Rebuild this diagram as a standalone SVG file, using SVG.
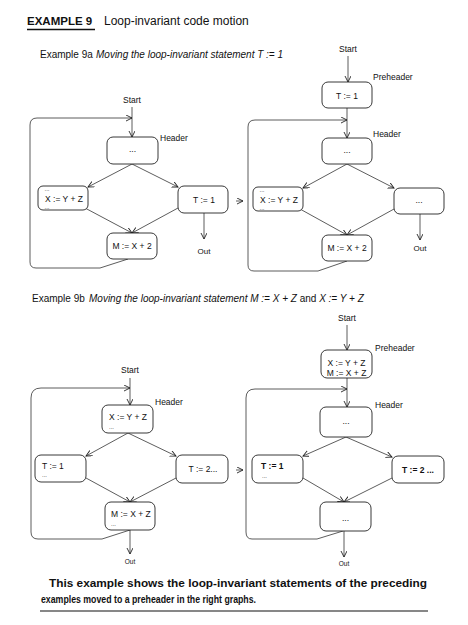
<svg xmlns="http://www.w3.org/2000/svg" width="468" height="625" viewBox="0 0 468 625">
<style>
text{font-family:"Liberation Sans",Arial,sans-serif;fill:#111}
.box{fill:#fff;stroke:#222;stroke-width:0.9}
.ln{fill:none;stroke:#333;stroke-width:0.8}
.lbl{font-size:8.5px}
.bt{font-size:8.5px;text-anchor:middle}
.dots{font-size:6px}
.out{font-size:8px;text-anchor:middle}
.outs{font-size:6.5px;text-anchor:middle}
.b{font-weight:bold}
</style>
<defs>
<marker id="ah" markerUnits="userSpaceOnUse" markerWidth="8" markerHeight="8" refX="6" refY="3" orient="auto">
<path d="M0,0 L6,3 L0,6" fill="none" stroke="#222" stroke-width="0.9"/>
</marker>
</defs>
<rect width="468" height="625" fill="#fff"/>

<g id="title">
<text x="27" y="25" font-size="11.5" font-weight="bold">EXAMPLE 9</text>
<line x1="27" y1="29.5" x2="95" y2="29.5" stroke="#111" stroke-width="1.6"/>
<text x="104" y="25" font-size="12">Loop-invariant code motion</text>
<text x="40" y="58" font-size="10">Example 9a<tspan x="96" font-style="italic">Moving the loop-invariant statement T := 1</tspan></text>
<text x="32" y="302" font-size="10">Example 9b<tspan x="89" font-style="italic">Moving the loop-invariant statement M := X + Z</tspan> and <tspan font-style="italic">X := Y + Z</tspan></text>
<text x="49" y="587" font-size="10.5" font-weight="bold" textLength="378" lengthAdjust="spacingAndGlyphs">This example shows the loop-invariant statements of the preceding</text>
<text x="41" y="603" font-size="10.5" font-weight="bold" textLength="215" lengthAdjust="spacingAndGlyphs">examples moved to a preheader in the right graphs.</text>
<line x1="40" y1="611" x2="428" y2="611" stroke="#111" stroke-width="1.2"/>
</g>

<g id="connectors">
<!-- 9a left -->
<line class="ln" x1="132" y1="107" x2="132" y2="137" marker-end="url(#ah)"/>
<path class="ln" d="M128,259 L100,268 L36,268 Q30,268 30,262 L30,125 Q30,118 37,118 L132,118" marker-end="url(#ah)"/>
<line class="ln" x1="132" y1="164" x2="88" y2="187" marker-end="url(#ah)"/>
<line class="ln" x1="132" y1="164" x2="178" y2="187" marker-end="url(#ah)"/>
<line class="ln" x1="85" y1="208" x2="132" y2="233" marker-end="url(#ah)"/>
<line class="ln" x1="178" y1="208" x2="132" y2="233" marker-end="url(#ah)"/>
<line class="ln" x1="204" y1="213" x2="204" y2="239" marker-end="url(#ah)"/>
<line class="ln" x1="236" y1="201" x2="243" y2="201" marker-end="url(#ah)"/>
<!-- 9a right -->
<line class="ln" x1="348" y1="56" x2="348" y2="82" marker-end="url(#ah)"/>
<line class="ln" x1="347" y1="108" x2="347" y2="138" marker-end="url(#ah)"/>
<path class="ln" d="M347,261 L318,271 L254,271 Q248,271 248,265 L248,127 Q248,120 255,120 L347,120" marker-end="url(#ah)"/>
<line class="ln" x1="347" y1="164" x2="303" y2="188" marker-end="url(#ah)"/>
<line class="ln" x1="347" y1="164" x2="394" y2="188" marker-end="url(#ah)"/>
<line class="ln" x1="300" y1="209" x2="347" y2="235" marker-end="url(#ah)"/>
<line class="ln" x1="394" y1="209" x2="347" y2="235" marker-end="url(#ah)"/>
<line class="ln" x1="420" y1="214" x2="420" y2="240" marker-end="url(#ah)"/>
<!-- 9b left -->
<line class="ln" x1="130" y1="378" x2="130" y2="405" marker-end="url(#ah)"/>
<path class="ln" d="M130,530 L102,539 L38,539 Q31,539 31,532 L31,398 Q31,388 41,388 L130,388" marker-end="url(#ah)"/>
<line class="ln" x1="128" y1="433" x2="86" y2="456" marker-end="url(#ah)"/>
<line class="ln" x1="128" y1="433" x2="176" y2="456" marker-end="url(#ah)"/>
<line class="ln" x1="86" y1="478" x2="130" y2="502" marker-end="url(#ah)"/>
<line class="ln" x1="176" y1="478" x2="130" y2="502" marker-end="url(#ah)"/>
<line class="ln" x1="130" y1="530" x2="130" y2="554" marker-end="url(#ah)"/>
<line class="ln" x1="236" y1="470" x2="243" y2="470" marker-end="url(#ah)"/>
<!-- 9b right -->
<line class="ln" x1="347" y1="325" x2="347" y2="350" marker-end="url(#ah)"/>
<line class="ln" x1="347" y1="378" x2="347" y2="407" marker-end="url(#ah)"/>
<path class="ln" d="M343,531 L317,539 L252,539 Q246,539 246,532 L246,398 Q246,389 255,389 L347,389" marker-end="url(#ah)"/>
<line class="ln" x1="346" y1="437" x2="303" y2="456" marker-end="url(#ah)"/>
<line class="ln" x1="346" y1="437" x2="392" y2="457" marker-end="url(#ah)"/>
<line class="ln" x1="303" y1="478" x2="344" y2="502" marker-end="url(#ah)"/>
<line class="ln" x1="392" y1="478" x2="344" y2="502" marker-end="url(#ah)"/>
<line class="ln" x1="344" y1="531" x2="344" y2="557" marker-end="url(#ah)"/>
</g>

<!-- 9a left nodes -->
<g id="a-start"><text class="bt" x="132" y="103">Start</text></g>
<g id="a-header">
<rect class="box" x="107" y="137" width="51" height="27" rx="6"/>
<text class="bt" x="132.5" y="152">...</text>
<text class="lbl" x="160" y="141">Header</text>
</g>
<g id="a-x">
<rect class="box" x="38" y="186" width="50" height="24" rx="5"/>
<text class="dots" x="44.5" y="191">...</text>
<text class="bt" x="64" y="201.5">X := Y + Z</text>
<text class="dots" x="44.5" y="209">...</text>
</g>
<g id="a-t">
<rect class="box" x="178" y="186" width="50" height="27" rx="6"/>
<text class="bt" x="204" y="203">T := 1</text>
</g>
<g id="a-m">
<rect class="box" x="107" y="233" width="50" height="26" rx="6"/>
<text class="bt" x="132" y="249">M := X + 2</text>
</g>
<g id="a-out"><text class="out" x="204" y="254">Out</text></g>

<!-- 9a right nodes -->
<g id="b-start"><text class="bt" x="348" y="52">Start</text></g>
<g id="b-pre">
<rect class="box" x="322" y="82" width="50" height="26" rx="6"/>
<text class="bt" x="347" y="99">T := 1</text>
<text class="lbl" x="373" y="80">Preheader</text>
</g>
<g id="b-header">
<rect class="box" x="322" y="138" width="50" height="26" rx="6"/>
<text class="bt" x="347" y="153">...</text>
<text class="lbl" x="373" y="137">Header</text>
</g>
<g id="b-x">
<rect class="box" x="253" y="187" width="50" height="24" rx="5"/>
<text class="dots" x="259.5" y="192">...</text>
<text class="bt" x="279" y="202.5">X := Y + Z</text>
<text class="dots" x="259.5" y="210">...</text>
</g>
<g id="b-r">
<rect class="box" x="394" y="188" width="50" height="26" rx="6"/>
<text class="bt" x="419" y="203">...</text>
</g>
<g id="b-m">
<rect class="box" x="322" y="235" width="50" height="26" rx="6"/>
<text class="bt" x="347" y="251">M := X + 2</text>
</g>
<g id="b-out"><text class="out" x="420" y="251">Out</text></g>

<!-- 9b left nodes -->
<g id="c-start"><text class="bt" x="130" y="373">Start</text></g>
<g id="c-header">
<rect class="box" x="102" y="405" width="51" height="28" rx="6"/>
<text class="bt" x="128" y="420">X := Y + Z</text>
<text class="dots" x="109" y="429">...</text>
<text class="lbl" x="155" y="405">Header</text>
</g>
<g id="c-t1">
<rect class="box" x="35" y="455" width="51" height="27" rx="6"/>
<text class="lbl" x="42" y="469">T := 1</text>
<text class="dots" x="42" y="477">...</text>
</g>
<g id="c-t2">
<rect class="box" x="176" y="455" width="52" height="28" rx="6"/>
<text class="bt" x="203" y="472">T := 2...</text>
</g>
<g id="c-m">
<rect class="box" x="105" y="502" width="50" height="28" rx="6"/>
<text class="lbl" x="111" y="517">M := X + Z</text>
<text class="dots" x="111" y="526">...</text>
</g>
<g id="c-out"><text class="outs" x="130" y="564">Out</text></g>

<!-- 9b right nodes -->
<g id="d-start"><text class="bt" x="347" y="321">Start</text></g>
<g id="d-pre">
<rect class="box" x="321" y="350" width="51" height="28" rx="6"/>
<text class="bt" x="346.5" y="366">X := Y + Z</text>
<text class="bt" x="346.5" y="375.5">M := X + Z</text>
<text class="lbl" x="375" y="351">Preheader</text>
</g>
<g id="d-header">
<rect class="box" x="320" y="407" width="52" height="30" rx="6"/>
<text class="bt" x="346" y="424">...</text>
<text class="lbl" x="375" y="408">Header</text>
</g>
<g id="d-t1">
<rect class="box" x="252" y="455" width="51" height="28" rx="6"/>
<text class="lbl b" x="261" y="469">T := 1</text>
<text class="dots" x="262" y="478">...</text>
</g>
<g id="d-t2">
<rect class="box" x="392" y="456" width="52" height="27" rx="6"/>
<text class="bt b" x="418" y="473">T := 2 ...</text>
</g>
<g id="d-m">
<rect class="box" x="320" y="502" width="51" height="29" rx="6"/>
<text class="bt" x="345.5" y="521">...</text>
</g>
<g id="d-out"><text class="outs" x="344" y="566">Out</text></g>
</svg>
